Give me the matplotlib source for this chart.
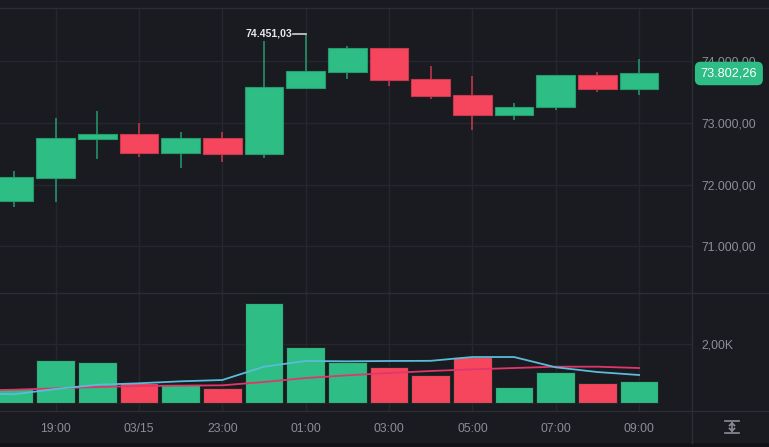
import matplotlib
matplotlib.use("Agg")
import matplotlib.pyplot as plt
import matplotlib.transforms as mtransforms
import numpy as np
from matplotlib.patches import Rectangle
from matplotlib.ticker import FuncFormatter

# hourly candles, 18:00 -> 09:00
opens = [71725, 72101, 72739, 72820, 72516, 72760, 72500, 73562,
         73826, 74211, 73713, 73453, 73123, 73253, 73778, 73545]
highs = [72222, 73080, 73193, 73003, 72852, 72860, 74330, 74451.03,
         74253, 74215, 73924, 73766, 73323, 73780, 73831, 74032]
lows = [71627, 71721, 72414, 72451, 72263, 72360, 72435, 73562,
        73718, 73604, 73383, 72885, 73052, 73205, 73506, 73458]
closes = [72114, 72750, 72820, 72516, 72760, 72500, 73578, 73838,
          74211, 73701, 73442, 73123, 73258, 73778, 73545, 73802.26]
volumes = [480, 1468, 1390, 668, 640, 498, 3400, 1898,
           1400, 1220, 960, 1549, 542, 1040, 678, 746]
# volume moving averages, first value is the hour before the window (17:00)
vol_ma_fast = [325, 295, 475, 620, 668, 735, 780, 1231, 1424,
               1413, 1424, 1430, 1559, 1559, 1210, 1050, 949]
vol_ma_slow = [420, 450, 498, 542, 576, 587, 600, 712, 847,
               938, 1017, 1085, 1141, 1186, 1231, 1231, 1186]

tick_idx = [1, 3, 5, 7, 9, 11, 13, 15]
tick_labels = ["19:00", "03/15", "23:00", "01:00", "03:00", "05:00", "07:00", "09:00"]
price_ticks = [71000, 72000, 73000, 74000]
vol_ticks = [2000]

BG = "#1a1b20"
GRID = "#25272e"
SEP = "#2b2e37"
TXT = "#8b8e96"
UP = "#2ebd85"
DOWN = "#f6465d"
UP_EDGE = "#249c6d"
DOWN_EDGE = "#c9394d"
FONT = "Liberation Sans"


def eu_fmt(v, dec=2):
    s = f"{v:,.{dec}f}"
    return s.replace(",", "X").replace(".", ",").replace("X", ".")


W, H = 769, 447
fig = plt.figure(figsize=(W / 100, H / 100), dpi=100, facecolor=BG)

def px_axes(x0, y0, x1, y1):
    return fig.add_axes([x0 / W, 1 - y1 / H, (x1 - x0) / W, (y1 - y0) / H])

ax = px_axes(0, 8, 692, 293)
axv = px_axes(0, 293, 692, 411)

n = len(opens)
x = np.arange(n)
xlim = (-0.336, 16.27)
width = 0.93

for a in (ax, axv):
    a.set_facecolor(BG)
    a.set_xlim(*xlim)
    for s in a.spines.values():
        s.set_visible(False)
    a.set_xticks(tick_idx)
    a.grid(True, color=GRID, linewidth=1)
    a.set_axisbelow(True)
    a.yaxis.tick_right()
    a.tick_params(length=0, colors=TXT, labelsize=8.8, pad=7)

# candles
for i in range(n):
    up = closes[i] >= opens[i]
    c = UP if up else DOWN
    ec = UP_EDGE if up else DOWN_EDGE
    ax.vlines(x[i], lows[i], highs[i], color=ec, linewidth=1.1, zorder=2)
    lo = min(opens[i], closes[i])
    ax.add_patch(Rectangle((x[i] - width / 2, lo), width, abs(closes[i] - opens[i]),
                           facecolor=c, edgecolor=ec, linewidth=0.8, zorder=3))

ax.set_ylim(70239, 74865)
ax.set_yticks(price_ticks)
ax.yaxis.set_major_formatter(FuncFormatter(lambda v, p: eu_fmt(v)))
ax.set_xticklabels([])
for lab in ax.get_yticklabels():
    lab.set_fontfamily(FONT)
    lab.set_horizontalalignment("left")

# high marker
hi = int(np.argmax(highs))
ax.plot([x[hi] - 0.3, x[hi]], [highs[hi], highs[hi]], color="#d0d2d6", linewidth=1.2, zorder=4)
ax.text(x[hi] - 0.33, highs[hi], eu_fmt(highs[hi]), color="#e6e7ea", fontsize=7.6,
        fontweight="bold", fontfamily=FONT, ha="right", va="center", zorder=4)

# last price tag
tr = mtransforms.blended_transform_factory(ax.transAxes, ax.transData)
ax.text(1.0125, closes[-1], eu_fmt(closes[-1]), transform=tr, color="white", fontsize=9.2,
        fontfamily=FONT, ha="left", va="center", zorder=6, clip_on=False,
        bbox=dict(boxstyle="round,pad=0.45,rounding_size=0.45", facecolor=UP, edgecolor="none"))

# volume
vcols = [UP if closes[i] >= opens[i] else DOWN for i in range(n)]
axv.bar(x, volumes, width=width, color=vcols, edgecolor="#1e2a26", linewidth=0.8, zorder=2)
xm = np.arange(-1, n)
axv.plot(xm, vol_ma_slow, color="#e0376a", linewidth=1.3, zorder=3)
axv.plot(xm, vol_ma_fast, color="#5bbbd9", linewidth=1.3, zorder=4)
axv.set_ylim(-271, 3729)
axv.set_yticks(vol_ticks)
axv.yaxis.set_major_formatter(FuncFormatter(lambda v, p: eu_fmt(v / 1000) + "K"))
for lab in axv.get_yticklabels():
    lab.set_fontfamily(FONT)
    lab.set_horizontalalignment("left")
axv.set_xticklabels(tick_labels, fontfamily=FONT)
axv.tick_params(axis="x", pad=9)

# panel separators and frame
def hline(y, x0=0, x1=W):
    fig.add_artist(plt.Line2D([x0 / W, x1 / W], [1 - y / H, 1 - y / H], color=SEP, linewidth=1))

def vline(xp, y0, y1):
    fig.add_artist(plt.Line2D([xp / W, xp / W], [1 - y0 / H, 1 - y1 / H], color=SEP, linewidth=1))

hline(8)
hline(293)
hline(411)
vline(692, 8, 443)
fig.add_artist(Rectangle((0, 0), 1, 4 / H, transform=fig.transFigure, facecolor="#111216",
                         edgecolor="none"))

# auto-scale icon
ic = "#8b8e96"
cx, y_top, y_bot = 732, 421, 433
hline_icon = lambda y: fig.add_artist(plt.Line2D([(cx - 7) / W, (cx + 7) / W], [1 - y / H, 1 - y / H],
                                                 color=ic, linewidth=1.2))
hline_icon(y_top)
hline_icon(y_bot)
fig.add_artist(plt.Line2D([cx / W, cx / W], [1 - (y_top + 2) / H, 1 - (y_bot - 2) / H], color=ic, linewidth=1.2))
for yy, d in ((y_top + 2, 1), (y_bot - 2, -1)):
    fig.add_artist(plt.Line2D([(cx - 2.5) / W, cx / W, (cx + 2.5) / W],
                              [1 - (yy + 2.5 * d) / H, 1 - yy / H, 1 - (yy + 2.5 * d) / H],
                              color=ic, linewidth=1.2))

fig.savefig("out.png", dpi=100, facecolor=BG)
